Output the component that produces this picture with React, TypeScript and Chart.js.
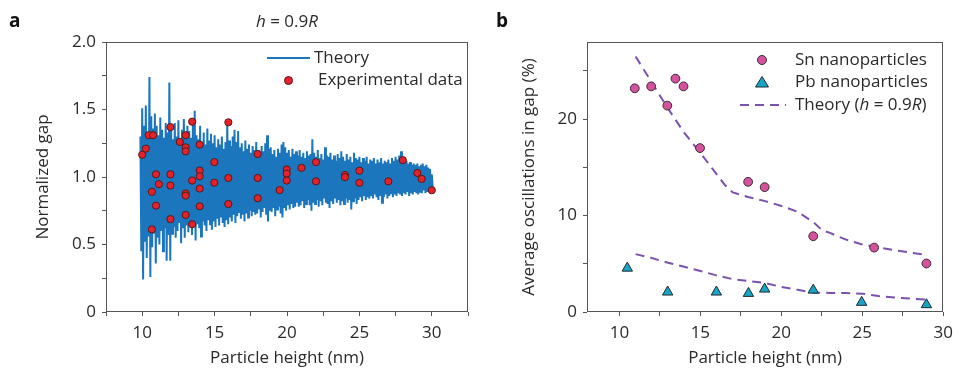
import React, { useEffect, useRef } from 'react';
import { Chart, registerables } from 'chart.js';

Chart.register(...registerables);

const FONT = "'Open Sans', 'DejaVu Sans', sans-serif";
const FS = 17;
const TEXT = '#2a2a2a';
const AXIS = '#555555';
const BLUE = '#1b76bd';
const RED = '#e3222b';
const PINK = '#d5529e';
const TEAL = '#17a5c5';
const PURPLE = '#7a52ae';

// ---------- Panel a ----------
const expX = [10.0, 10.25, 10.45, 10.75, 10.67, 10.67, 10.95, 10.95, 11.15, 11.95, 11.95, 11.95, 11.95,
  12.6, 13.0, 13.0, 13.0, 13.0, 13.0, 13.0, 13.45, 13.45, 13.45, 13.97, 13.97, 13.97, 13.97, 13.97,
  14.98, 14.98, 15.95, 15.95, 15.95, 17.98, 17.98, 17.98, 19.49, 19.98, 19.98, 19.98, 21.0, 22.0, 22.0,
  24.0, 24.0, 25.0, 25.0, 27.0, 28.0, 29.0, 29.3, 30.0];
const expY = [1.165, 1.21, 1.31, 1.31, 0.89, 0.612, 1.02, 0.788, 0.947, 1.37, 1.02, 0.937, 0.688,
  1.26, 1.31, 1.22, 1.19, 0.878, 0.862, 0.719, 1.41, 0.974, 0.65, 1.24, 1.048, 1.005, 0.914, 0.783,
  1.11, 0.958, 1.405, 0.993, 0.8, 1.17, 0.993, 0.843, 0.903, 1.056, 1.025, 0.974, 1.068, 1.11, 0.968,
  1.015, 0.999, 1.047, 0.957, 0.968, 1.125, 1.03, 0.986, 0.902];

const THEORY_X0 = 9.875;
const THEORY_STEP = 0.125;
const theoryHigh = [
  1.30, 1.51, 1.38, 1.53, 1.33, 1.74, 1.45, 1.36,
  1.47, 1.38, 1.31, 1.44, 1.35, 1.29, 1.40, 1.33,
  1.70, 1.36, 1.28, 1.40, 1.30, 1.42, 1.27, 1.35,
  1.43, 1.30, 1.38, 1.34, 1.29, 1.40, 1.49, 1.31,
  1.28, 1.38, 1.26, 1.33, 1.24, 1.36, 1.27, 1.32,
  1.25, 1.31, 1.22, 1.28, 1.24, 1.30, 1.21, 1.26,
  1.41, 1.27, 1.23, 1.30, 1.35, 1.26, 1.34, 1.22,
  1.25, 1.19, 1.27, 1.21, 1.24, 1.18, 1.23, 1.20,
  1.26, 1.20, 1.17, 1.23, 1.19, 1.25, 1.31, 1.21,
  1.22, 1.17, 1.20, 1.15, 1.21, 1.18, 1.24, 1.26,
  1.22, 1.18, 1.20, 1.15, 1.21, 1.17, 1.19, 1.16,
  1.20, 1.15, 1.18, 1.14, 1.19, 1.16, 1.17, 1.28,
  1.18, 1.15, 1.20, 1.14, 1.17, 1.13, 1.22, 1.16,
  1.15, 1.18, 1.13, 1.16, 1.12, 1.17, 1.14, 1.19,
  1.15, 1.12, 1.17, 1.13, 1.15, 1.11, 1.18, 1.14,
  1.13, 1.15, 1.11, 1.14, 1.12, 1.15, 1.10, 1.13,
  1.12, 1.14, 1.10, 1.13, 1.11, 1.14, 1.10, 1.12,
  1.11, 1.13, 1.10, 1.14, 1.12, 1.15, 1.13, 1.16,
  1.19, 1.13, 1.11, 1.12, 1.10, 1.11, 1.09, 1.10,
  1.09, 1.10, 1.08, 1.09, 1.10, 1.08, 1.09, 1.07,
  1.06, 1.02];
const theoryLow = [
  0.45, 0.24, 0.52, 0.40, 0.56, 0.26, 0.48, 0.58,
  0.36, 0.55, 0.50, 0.60, 0.45, 0.62, 0.38, 0.57,
  0.38, 0.58, 0.63, 0.55, 0.60, 0.66, 0.51, 0.62,
  0.55, 0.64, 0.59, 0.66, 0.57, 0.63, 0.53, 0.65,
  0.62, 0.56, 0.67, 0.64, 0.60, 0.68, 0.65, 0.61,
  0.67, 0.63, 0.69, 0.64, 0.70, 0.66, 0.63, 0.68,
  0.65, 0.70, 0.67, 0.72, 0.66, 0.71, 0.74, 0.69,
  0.72, 0.67, 0.73, 0.70, 0.75, 0.71, 0.74, 0.72,
  0.73, 0.76, 0.70, 0.74, 0.77, 0.72, 0.67, 0.75,
  0.74, 0.77, 0.71, 0.76, 0.78, 0.73, 0.70, 0.77,
  0.75, 0.79, 0.76, 0.80, 0.77, 0.78, 0.81, 0.78,
  0.79, 0.82, 0.77, 0.80, 0.83, 0.79, 0.75, 0.81,
  0.80, 0.83, 0.78, 0.82, 0.79, 0.84, 0.81, 0.80,
  0.77, 0.82, 0.80, 0.84, 0.81, 0.83, 0.79, 0.82,
  0.80, 0.84, 0.81, 0.83, 0.76, 0.82, 0.84, 0.80,
  0.83, 0.85, 0.82, 0.86, 0.83, 0.85, 0.84, 0.86,
  0.84, 0.87, 0.85, 0.83, 0.86, 0.81, 0.85, 0.87,
  0.84, 0.86, 0.88, 0.85, 0.87, 0.86, 0.88, 0.87,
  0.86, 0.88, 0.87, 0.89, 0.86, 0.88, 0.87, 0.89,
  0.88, 0.87, 0.89, 0.88, 0.90, 0.88, 0.89, 0.90,
  0.89, 0.92];

const aXTicks = [7.5, 10, 12.5, 15, 17.5, 20, 22.5, 25, 27.5, 30, 32.5];
const aXLabelValues = [10, 15, 20, 25, 30];
const aXLabelText = ['10', '15', '20', '25', '30'];
const aYTicks = [0, 0.25, 0.5, 0.75, 1, 1.25, 1.5, 1.75, 2];
const aYLabelValues = [0, 0.5, 1, 1.5, 2];
const aYLabelText = ['0', '0.5', '1.0', '1.5', '2.0'];

// ---------- Panel b ----------
const snX = [10.95, 11.96, 12.96, 13.46, 13.96, 14.98, 17.95, 18.97, 21.97, 25.73, 28.96];
const snY = [23.2, 23.4, 21.4, 24.2, 23.4, 17.0, 13.5, 12.95, 7.86, 6.68, 5.03];
const pbX = [10.49, 12.98, 15.99, 17.97, 18.97, 21.97, 24.96, 28.96];
const pbY = [4.55, 2.07, 2.07, 1.93, 2.38, 2.27, 1.0, 0.76];
const snTheoryX = [11, 12, 13, 14, 15, 16, 16.5, 17, 18, 19, 20, 21, 22, 22.5, 23, 24, 25, 26, 27, 28, 29];
const snTheoryY = [26.5, 23.8, 21.1, 18.6, 16.5, 14.3, 13.2, 12.4, 11.9, 11.5, 11.0, 10.4, 9.3, 8.5, 8.2, 7.5, 7.0, 6.7, 6.4, 6.15, 5.9];
const pbTheoryX = [11, 12, 13, 14, 15, 16, 17, 18, 19, 20, 21, 22, 23, 24, 25, 26, 27, 28, 29];
const pbTheoryY = [6.0, 5.6, 5.1, 4.7, 4.25, 3.8, 3.4, 3.2, 3.0, 2.6, 2.3, 2.0, 1.98, 1.96, 1.9, 1.65, 1.5, 1.38, 1.27];

const bXTicks = [10, 12.5, 15, 17.5, 20, 22.5, 25, 27.5, 30];
const bXLabelValues = [10, 15, 20, 25, 30];
const bXLabelText = ['10', '15', '20', '25', '30'];
const bYTicks = [0, 5, 10, 15, 20, 25];
const bYLabelValues = [0, 10, 20];
const bYLabelText = ['0', '10', '20'];

function labeller(values: number[], texts: string[]) {
  return (v: any) => {
    const n = Number(v);
    for (let i = 0; i < values.length; i++) {
      if (Math.abs(values[i] - n) < 1e-6) return texts[i];
    }
    return '';
  };
}

const boxPlugin = {
  id: 'boxFrame',
  beforeDatasetsDraw(chart: any) {
    const { ctx, chartArea: a } = chart;
    ctx.save();
    ctx.strokeStyle = AXIS;
    ctx.lineWidth = 1;
    ctx.strokeRect(Math.round(a.left) + 0.5, Math.round(a.top) + 0.5,
      Math.round(a.right - a.left) - 1, Math.round(a.bottom - a.top) - 1);
    ctx.restore();
  },
};

function axis(opts: {
  min: number; max: number; ticks: number[]; labelValues: number[]; labelText: string[];
  title: string; size: number; horizontal: boolean; titlePad: number;
}) {
  return {
    type: 'linear',
    min: opts.min,
    max: opts.max,
    afterBuildTicks: (s: any) => { s.ticks = opts.ticks.map((v) => ({ value: v })); },
    afterFit: (s: any) => { if (opts.horizontal) s.height = opts.size; else s.width = opts.size; },
    ticks: {
      autoSkip: false,
      maxRotation: 0,
      padding: opts.horizontal ? 7 : 6,
      color: TEXT,
      font: { size: FS, family: FONT },
      callback: labeller(opts.labelValues, opts.labelText),
    },
    grid: { drawOnChartArea: false, drawTicks: true, tickLength: 4, color: AXIS, lineWidth: 1 },
    border: { display: false },
    title: {
      display: true,
      text: opts.title,
      color: TEXT,
      font: { size: FS, family: FONT },
      padding: opts.horizontal ? { top: 0, bottom: opts.titlePad } : { top: opts.titlePad, bottom: 0 },
    },
  };
}

function PanelA() {
  const ref = useRef<HTMLCanvasElement>(null);
  useEffect(() => {
    const theoryPts: { x: number; y: number }[] = [];
    for (let i = 0; i < theoryHigh.length; i++) {
      const x = THEORY_X0 + i * THEORY_STEP;
      theoryPts.push({ x, y: theoryHigh[i] });
      theoryPts.push({ x: x + THEORY_STEP / 2, y: theoryLow[i] });
    }
    const expPts = expX.map((x, i) => ({ x, y: expY[i] }));
    const chart = new Chart(ref.current as HTMLCanvasElement, {
      type: 'scatter',
      data: {
        datasets: [
          {
            type: 'line',
            label: 'Theory',
            data: theoryPts,
            borderColor: BLUE,
            borderWidth: 2,
            pointRadius: 0,
            tension: 0,
            fill: false,
            order: 2,
          } as any,
          {
            label: 'Experimental data',
            data: expPts,
            backgroundColor: RED,
            borderColor: '#5a1717',
            borderWidth: 1,
            pointRadius: 3.6,
            order: 1,
          },
        ],
      },
      options: {
        animation: false,
        responsive: false,
        maintainAspectRatio: false,
        events: [],
        layout: { padding: { left: 0, right: 12, top: 42, bottom: 0 } },
        plugins: { legend: { display: false }, tooltip: { enabled: false } },
        scales: {
          x: axis({ min: 7.5, max: 32.5, ticks: aXTicks, labelValues: aXLabelValues, labelText: aXLabelText,
            title: 'Particle height (nm)', size: 58, horizontal: true, titlePad: 2 }),
          y: axis({ min: 0, max: 2, ticks: aYTicks, labelValues: aYLabelValues, labelText: aYLabelText,
            title: 'Normalized gap', size: 106, horizontal: false, titlePad: 33 }),
        } as any,
      },
      plugins: [boxPlugin],
    });
    return () => chart.destroy();
  }, []);
  return <canvas ref={ref} width={480} height={370} style={{ position: 'absolute', left: 0, top: 0 }} />;
}

function PanelB() {
  const ref = useRef<HTMLCanvasElement>(null);
  useEffect(() => {
    const chart = new Chart(ref.current as HTMLCanvasElement, {
      type: 'scatter',
      data: {
        datasets: [
          {
            label: 'Sn nanoparticles',
            data: snX.map((x, i) => ({ x, y: snY[i] })),
            backgroundColor: PINK,
            borderColor: '#3a2a33',
            borderWidth: 1,
            pointRadius: 4.4,
            order: 1,
          },
          {
            label: 'Pb nanoparticles',
            data: pbX.map((x, i) => ({ x, y: pbY[i] })),
            backgroundColor: TEAL,
            borderColor: '#1c2a30',
            borderWidth: 1,
            pointStyle: 'triangle',
            pointRadius: 6,
            order: 1,
          },
          {
            type: 'line',
            label: 'Theory (h = 0.9R)',
            data: snTheoryX.map((x, i) => ({ x, y: snTheoryY[i] })),
            borderColor: PURPLE,
            borderWidth: 2,
            borderDash: [9, 6],
            pointRadius: 0,
            tension: 0,
            fill: false,
            order: 2,
          } as any,
          {
            type: 'line',
            label: 'Theory Pb',
            data: pbTheoryX.map((x, i) => ({ x, y: pbTheoryY[i] })),
            borderColor: PURPLE,
            borderWidth: 2,
            borderDash: [9, 6],
            pointRadius: 0,
            tension: 0,
            fill: false,
            order: 2,
          } as any,
        ],
      },
      options: {
        animation: false,
        responsive: false,
        maintainAspectRatio: false,
        events: [],
        layout: { padding: { left: 0, right: 11, top: 42, bottom: 0 } },
        plugins: { legend: { display: false }, tooltip: { enabled: false } },
        scales: {
          x: axis({ min: 8, max: 30, ticks: bXTicks, labelValues: bXLabelValues, labelText: bXLabelText,
            title: 'Particle height (nm)', size: 58, horizontal: true, titlePad: 2 }),
          y: axis({ min: 0, max: 28, ticks: bYTicks, labelValues: bYLabelValues, labelText: bYLabelText,
            title: 'Average oscillations in gap (%)', size: 107, horizontal: false, titlePad: 39 }),
        } as any,
      },
      plugins: [boxPlugin],
    });
    return () => chart.destroy();
  }, []);
  return <canvas ref={ref} width={480} height={370} style={{ position: 'absolute', left: 480, top: 0 }} />;
}

const textStyle: React.CSSProperties = {
  position: 'absolute',
  fontFamily: FONT,
  fontSize: FS,
  lineHeight: '20px',
  color: TEXT,
  whiteSpace: 'nowrap',
};

export default function App() {
  return (
    <div style={{ position: 'fixed', left: 0, top: 0, width: 960, height: 370, background: '#fff', overflow: 'hidden' }}>
      <PanelA />
      <PanelB />
      {/* panel letters and title */}
      <div style={{ ...textStyle, left: 9, top: 10, fontSize: 19, fontWeight: 700, color: '#111' }}>a</div>
      <div style={{ ...textStyle, left: 496, top: 10, fontSize: 19, fontWeight: 700, color: '#111' }}>b</div>
      <div style={{ ...textStyle, left: 237, top: 11, width: 100, textAlign: 'center' }}>
        <i>h</i> = 0.9<i>R</i>
      </div>
      {/* legend a */}
      <div style={{ position: 'absolute', left: 267, top: 57, width: 43, height: 0, borderTop: `2px solid ${BLUE}` }} />
      <div style={{ ...textStyle, left: 314, top: 47 }}>Theory</div>
      <div style={{ position: 'absolute', left: 284, top: 76, width: 7, height: 7, borderRadius: '50%', background: RED, border: '1px solid #5a1717' }} />
      <div style={{ ...textStyle, left: 318, top: 69 }}>Experimental data</div>
      {/* legend b */}
      <div style={{ position: 'absolute', left: 757, top: 55, width: 8, height: 8, borderRadius: '50%', background: PINK, border: '1px solid #3a2a33' }} />
      <div style={{ ...textStyle, left: 795, top: 49 }}>Sn nanoparticles</div>
      <svg style={{ position: 'absolute', left: 754, top: 75 }} width={16} height={14}>
        <polygon points="8,1.5 14.5,12 1.5,12" fill={TEAL} stroke="#1c2a30" strokeWidth={1} />
      </svg>
      <div style={{ ...textStyle, left: 795, top: 71 }}>Pb nanoparticles</div>
      <svg style={{ position: 'absolute', left: 740, top: 100 }} width={46} height={10}>
        <line x1={0} y1={5} x2={46} y2={5} stroke={PURPLE} strokeWidth={2} strokeDasharray="9 6" />
      </svg>
      <div style={{ ...textStyle, left: 795, top: 94 }}>
        Theory (<i>h</i> = 0.9<i>R</i>)
      </div>
    </div>
  );
}
